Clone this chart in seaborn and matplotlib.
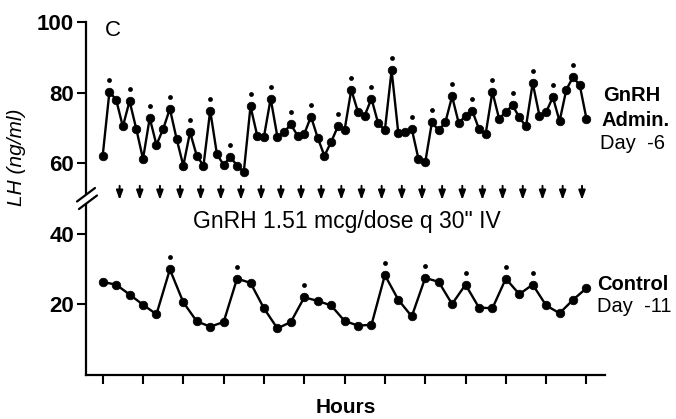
import numpy as np
import pandas as pd
import matplotlib
matplotlib.use("Agg")
import matplotlib.pyplot as plt
import seaborn as sns
from matplotlib.transforms import ScaledTranslation, blended_transform_factory
from matplotlib.lines import Line2D
from matplotlib.patches import Polygon

# ---------------- data ----------------
# GnRH administration day -6, sampled every 10 min over 12 h
gnrh_lh = [62.1, 80.2, 78.0, 70.4, 77.6, 69.7, 61.2, 72.8, 65.2, 69.7,
           75.4, 66.9, 59.3, 68.8, 62.1, 59.3, 74.9, 62.6, 59.5, 61.8,
           59.3, 57.5, 76.1, 67.8, 67.5, 78.3, 67.5, 68.8, 71.0, 67.8,
           68.3, 73.2, 67.2, 62.1, 66.0, 70.4, 69.4, 80.8, 74.5, 73.5,
           78.3, 71.3, 69.4, 86.3, 68.5, 68.8, 69.7, 61.2, 60.2, 71.6,
           69.3, 71.6, 78.9, 71.3, 73.5, 74.9, 69.7, 68.3, 80.2, 72.6,
           74.5, 76.4, 73.0, 70.4, 82.7, 73.5, 74.5, 78.7, 71.9, 80.8,
           84.4, 82.1, 72.6]
gnrh_interval_min = 10
gnrh_pulse_idx = [1, 4, 7, 10, 13, 16, 19, 22, 25, 28, 31, 35, 37, 40, 43,
                  46, 49, 52, 55, 58, 61, 64, 67, 70]

# Control day -11, sampled every 20 min over 12 h
control_lh = [26.35, 25.6, 22.8, 19.9, 17.2, 29.9, 20.6, 15.2, 13.7, 15.0,
              27.3, 26.1, 18.9, 13.2, 15.0, 22.0, 21.0, 19.7, 15.3, 14.0,
              14.2, 28.3, 21.3, 16.6, 27.5, 26.4, 20.1, 25.6, 19.1, 18.9,
              27.3, 22.9, 25.6, 19.7, 17.5, 21.3, 24.6]
control_interval_min = 20
control_pulse_idx = [5, 10, 15, 21, 24, 27, 30, 32]

# GnRH injection times (hours)
arrow_hours = [0.42, 0.92, 1.42, 1.92, 2.43, 2.93, 3.43, 3.93, 4.42, 4.92,
               5.42, 5.92, 6.42, 6.92, 7.42, 7.92, 8.42, 8.92, 9.42, 9.92,
               10.42, 10.91, 11.41, 11.89]

x_ticks = list(range(0, 13))
y_ticks = [20, 40, 60, 80, 100]

gnrh_df = pd.DataFrame({"hours": np.arange(len(gnrh_lh)) * gnrh_interval_min / 60,
                        "lh": gnrh_lh})
control_df = pd.DataFrame({"hours": np.arange(len(control_lh)) * control_interval_min / 60,
                           "lh": control_lh})

# ---------------- style ----------------
sns.set_style("ticks")
plt.rcParams["font.family"] = ["Liberation Sans", "DejaVu Sans"]
plt.rcParams.update({"text.color": "black", "axes.labelcolor": "black",
                     "xtick.color": "black", "ytick.color": "black",
                     "axes.edgecolor": "black"})

fig = plt.figure(figsize=(6.76, 4.19), dpi=100)
ax = fig.add_axes([86 / 676, 44 / 419, 519 / 676, 353 / 419])

line_kw = dict(color="black", marker="o", markersize=6.2, linewidth=1.7,
               markeredgecolor="black", markeredgewidth=0.5)
sns.lineplot(data=gnrh_df, x="hours", y="lh", ax=ax, **line_kw)
sns.lineplot(data=control_df, x="hours", y="lh", ax=ax, **line_kw)

# pulse asterisks (small dots) above detected peaks
star_off = ax.transData + ScaledTranslation(0, 12 / 100, fig.dpi_scale_trans)
ax.scatter(gnrh_df["hours"].iloc[gnrh_pulse_idx], gnrh_df["lh"].iloc[gnrh_pulse_idx],
           s=12, color="black", transform=star_off, zorder=3, linewidths=0)
ax.scatter(control_df["hours"].iloc[control_pulse_idx], control_df["lh"].iloc[control_pulse_idx],
           s=12, color="black", transform=star_off, zorder=3, linewidths=0)

# GnRH injection arrows
for t in arrow_hours:
    ax.annotate("", xy=(t, 49.6), xytext=(t, 53.6),
                arrowprops=dict(arrowstyle="-|>,head_length=0.55,head_width=0.2",
                                color="black", lw=1.4, shrinkA=0, shrinkB=0))

ax.text(6.05, 41.6, 'GnRH 1.51 mcg/dose q 30" IV', ha="center", va="baseline",
        fontsize=16.5, color="black")

ax.set_xlim(-0.414, 12.46)
ax.set_ylim(0, 100)
ax.set_xticks(x_ticks)
ax.set_xticklabels([])
ax.set_yticks(y_ticks)
ax.set_yticklabels([str(v) for v in y_ticks], fontsize=16, fontweight="bold",
                   color="black")
ax.tick_params(axis="both", direction="out", length=6.5, width=1.5, color="black")
ax.tick_params(axis="y", pad=2)
for s in ["top", "right"]:
    ax.spines[s].set_visible(False)
for s in ["left", "bottom"]:
    ax.spines[s].set_linewidth(1.6)
    ax.spines[s].set_color("black")

ax.set_xlabel("Hours", fontsize=15, fontweight="bold", color="black")
ax.xaxis.set_label_coords(0.5, -0.065)
ax.set_ylabel("LH (ng/ml)", fontsize=15, fontstyle="italic", color="black")
ax.yaxis.set_label_coords(-0.115, 0.617)

ax.text(0.05, 97.5, "C", fontsize=16, ha="left", va="center", color="black")

# right-hand labels
right_kw = dict(ha="left", va="center", fontsize=14.5, clip_on=False, color="black")
ax.text(12.41, 79.2, "GnRH", fontweight="bold", **right_kw)
ax.text(12.37, 72.1, "Admin.", fontweight="bold", **right_kw)
ax.text(12.33, 65.6, "Day  -6", **right_kw)
ax.text(12.27, 25.7, "Control", fontweight="bold", **right_kw)
ax.text(12.27, 19.3, "Day  -11", **right_kw)

# axis-break mark on the y spine near 50
blend = blended_transform_factory(ax.transAxes, ax.transData)
x0, y0 = blend.transform((0, 50))
inv = fig.transFigure.inverted()

def fpts(pts):
    return inv.transform([(x0 + dx, y0 + dy) for dx, dy in pts])

gap = fpts([(-9, -3), (9, 10.5), (11, 3), (-7, -10.5)])
fig.patches.append(Polygon(gap, closed=True, transform=fig.transFigure,
                           facecolor="white", edgecolor="none", zorder=5))
for seg in ([(-9, -3), (9, 10.5)], [(-7, -10.5), (11, 3)]):
    p = fpts(seg)
    fig.lines.append(Line2D(p[:, 0], p[:, 1], transform=fig.transFigure,
                            color="black", lw=1.6, zorder=6))

fig.savefig("out.png", dpi=100, facecolor="white")
